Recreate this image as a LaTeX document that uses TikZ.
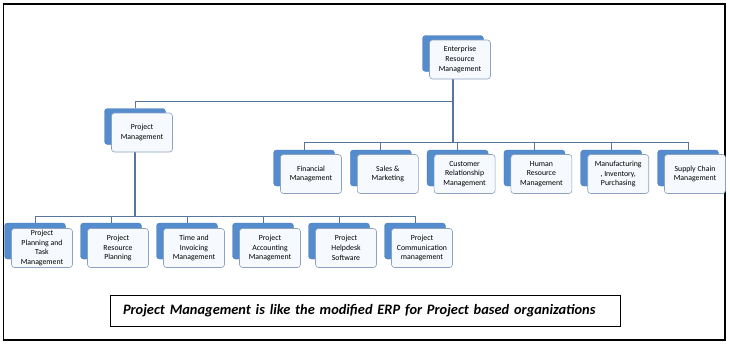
\documentclass[tikz,border=0pt]{standalone}
\usepackage{fontspec}
\setmainfont{Carlito}
\usetikzlibrary{calc,backgrounds}
\definecolor{backblue}{RGB}{84,140,206}
\definecolor{frontfill}{RGB}{246,249,253}
\definecolor{frontline}{RGB}{140,162,190}
\definecolor{connline}{RGB}{88,118,154}
\tikzset{
  backbox/.style={fill=backblue, draw=backblue!85!black, line width=0.3pt, rounded corners=3pt, minimum width=61pt, minimum height=36pt, inner sep=0pt},
  frontbox/.style={fill=frontfill, draw=frontline, line width=0.6pt, rounded corners=3pt, minimum width=61pt, minimum height=39pt, inner sep=1pt, align=center, font=\fontsize{7.8}{9.8}\selectfont, text=black},
  conn/.style={draw=connline, line width=0.9pt},
  trunk/.style={draw=connline, line width=1.3pt},
  caption/.style={draw=black, line width=0.8pt, minimum width=510pt, minimum height=31pt, text width=484pt, align=left, inner xsep=13pt, font=\fontsize{14.4}{16}\selectfont\bfseries\itshape}
}
\begin{document}
\begin{tikzpicture}[x=1pt,y=-1pt]
\useasboundingbox (0,0) rectangle (730,343);
\draw[black, line width=1.3pt] (3.5,4) rectangle (725,340);

% top
\node[backbox] (erpB) at (453,53.5) {};
\node[frontbox] (erp) at ($(erpB)+(7,6)$) {Enterprise\\Resource\\Management};
\node[backbox] (pmB) at (135,126.5) {};
\node[frontbox] (pm) at ($(pmB)+(7,6)$) {Project\\Management};

% right row
\node[backbox] (finB) at (304,168) {};
\node[frontbox] (fin) at ($(finB)+(7,6)$) {Financial\\Management};
\node[backbox] (salB) at (380.8,168) {};
\node[frontbox] (sal) at ($(salB)+(7,6)$) {Sales \&\\Marketing};
\node[backbox] (crmB) at (457.6,168) {};
\node[frontbox] (crm) at ($(crmB)+(7,6)$) {Customer\\Relationship\\Management};
\node[backbox] (hrmB) at (534.4,168) {};
\node[frontbox] (hrm) at ($(hrmB)+(7,6)$) {Human\\Resource\\Management};
\node[backbox] (mfgB) at (611.2,168) {};
\node[frontbox] (mfg) at ($(mfgB)+(7,6)$) {Manufacturing\\, Inventory,\\Purchasing};
\node[backbox] (scmB) at (688,168) {};
\node[frontbox] (scm) at ($(scmB)+(7,6)$) {Supply Chain\\Management};

% bottom row
\node[backbox] (ptmB) at (35,241) {};
\node[frontbox] (ptm) at ($(ptmB)+(7,7)$) {Project\\Planning and\\Task\\Management};
\node[backbox] (prpB) at (111,241) {};
\node[frontbox] (prp) at ($(prpB)+(7,7)$) {Project\\Resource\\Planning};
\node[backbox] (timB) at (187,241) {};
\node[frontbox] (tim) at ($(timB)+(7,7)$) {Time and\\Invoicing\\Management};
\node[backbox] (pamB) at (263,241) {};
\node[frontbox] (pam) at ($(pamB)+(7,7)$) {Project\\Accounting\\Management};
\node[backbox] (phsB) at (339,241) {};
\node[frontbox] (phs) at ($(phsB)+(7,7)$) {Project\\Helpdesk\\Software};
\node[backbox] (pcmB) at (415,241) {};
\node[frontbox] (pcm) at ($(pcmB)+(7,7)$) {Project\\Communication\\management};

% caption
\node[caption] (cap) at (365,310.5) {Project Management is like the modified ERP for Project based organizations};

% connectors
\coordinate (jn) at (453,101);
\coordinate (rbus) at (453,142);
\coordinate (lbus) at (135,216);
\begin{scope}[on background layer]
\draw[trunk] (erpB.south) -- (rbus);
\draw[conn] (jn) -| (pmB.north);
\foreach \c in {finB,salB,crmB,hrmB,mfgB,scmB} \draw[conn] (rbus) -| (\c.north);
\draw[trunk] (pmB.south) -- (lbus);
\foreach \c in {ptmB,prpB,timB,pamB,phsB,pcmB} \draw[conn] (lbus) -| (\c.north);
\end{scope}
\end{tikzpicture}
\end{document}
